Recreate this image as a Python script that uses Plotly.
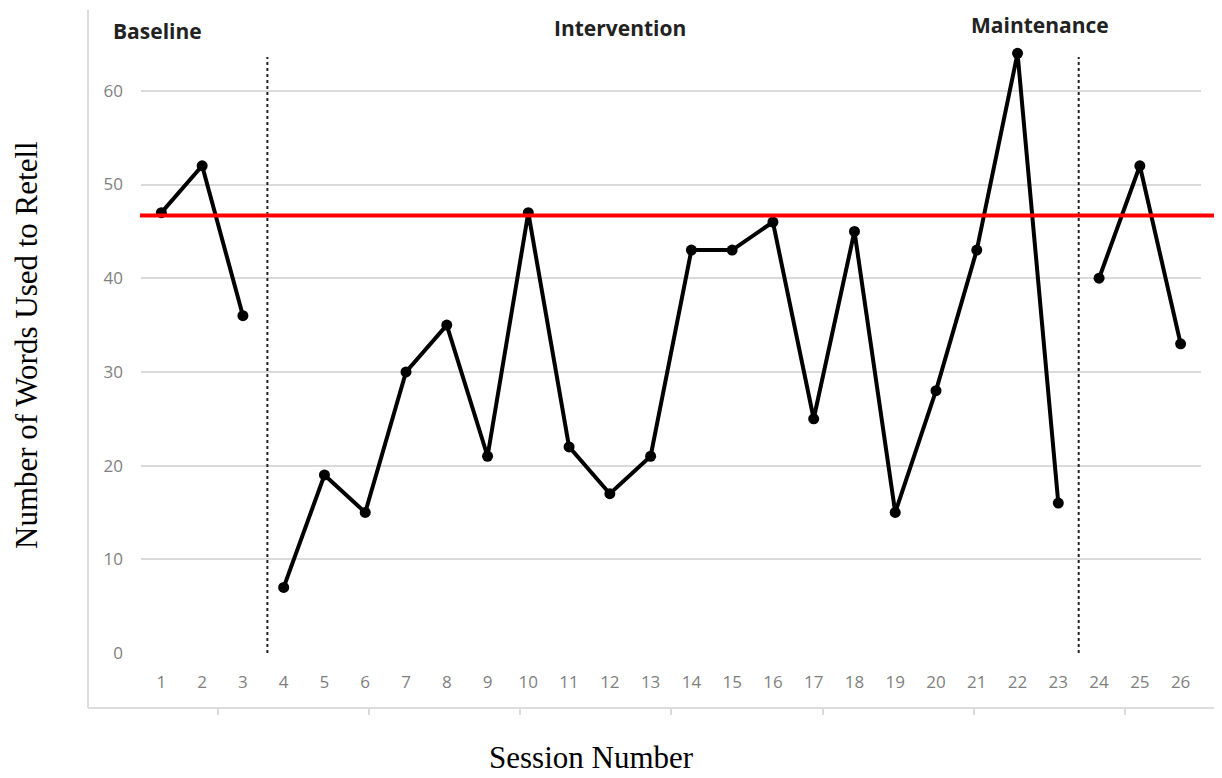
import plotly.graph_objects as go

sessions = list(range(1, 27))
words = [47, 52, 36, 7, 19, 15, 30, 35, 21, 47, 22, 17, 21, 43, 43, 46, 25, 45, 15, 28, 43, 64, 16, 40, 52, 33]
phase_names = ["Baseline", "Intervention", "Maintenance"]
phase_ranges = [(1, 3), (4, 23), (24, 26)]
phase_label_x = [0.9, 12.25, 22.54]
phase_label_y = [1.021, 1.026, 1.031]
phase_dividers = [3.6, 23.5]
criterion = 46.7
y_ticks = [0, 10, 20, 30, 40, 50, 60]

W, H = 1214, 770
L, R, T, B = 133, 21, 36, 125
PW, PH = W - L - R, H - T - B


def px(xp):  # page x pixel -> paper
    return (xp - 8 - L) / PW


def py(yp):  # page y pixel -> paper
    return (H - B - (yp - 8)) / PH


fig = go.Figure()
for (a, b) in phase_ranges:
    xs = [s for s in sessions if a <= s <= b]
    ys = [words[s - 1] for s in xs]
    fig.add_trace(go.Scatter(x=xs, y=ys, mode="lines+markers",
                             line=dict(color="black", width=4),
                             marker=dict(color="black", size=11),
                             showlegend=False, cliponaxis=False))

for d in phase_dividers:
    fig.add_shape(type="line", xref="x", yref="y", x0=d, x1=d, y0=0, y1=63.6,
                  line=dict(color="#222", width=2, dash="dot"))

fig.add_shape(type="line", xref="paper", yref="y", x0=-0.001, x1=1.05,
              y0=criterion, y1=criterion, line=dict(color="#ff0000", width=4))

for name, xv, yv in zip(phase_names, phase_label_x, phase_label_y):
    fig.add_annotation(x=xv, y=yv, xref="x", yref="paper", text="<b>" + name + "</b>",
                       xanchor="center", yanchor="middle",
                       showarrow=False, font=dict(family="Open Sans", size=21, color="#222"))

# axis titles
fig.add_annotation(x=px(591), y=py(757), xref="paper", yref="paper", text="Session Number",
                   xanchor="center", yanchor="middle", borderpad=0,
                   showarrow=False, font=dict(family="Liberation Serif", size=31, color="black"))
fig.add_annotation(x=px(27), y=py(345), xref="paper", yref="paper", text="Number of Words Used to Retell",
                   xanchor="center", yanchor="middle", textangle=-90, showarrow=False, borderpad=0,
                   font=dict(family="Liberation Serif", size=31, color="black"))

# outer frame from original image
fc = "#dcdcdc"
fig.add_shape(type="line", xref="paper", yref="paper", x0=px(88), x1=px(88),
              y0=py(708), y1=py(10), line=dict(color=fc, width=2))
fig.add_shape(type="line", xref="paper", yref="paper", x0=px(88), x1=px(1230),
              y0=py(708), y1=py(708), line=dict(color=fc, width=2))
for tx in [218, 369, 520, 671, 823, 974, 1125]:
    fig.add_shape(type="line", xref="paper", yref="paper", x0=px(tx), x1=px(tx),
                  y0=py(708), y1=py(715), line=dict(color=fc, width=2))

fig.update_layout(
    width=W, height=H,
    margin=dict(l=L, r=R, t=T, b=B),
    plot_bgcolor="white", paper_bgcolor="white",
    xaxis=dict(range=[0.5, 26.5], tickmode="array", tickvals=sessions,
               ticktext=[str(s) for s in sessions], showgrid=False, zeroline=False,
               showline=False, ticks="", ticklabelstandoff=17,
               tickfont=dict(family="Open Sans", size=17, color="#7f7f7f")),
    yaxis=dict(range=[0, 65], tickmode="array", tickvals=y_ticks, showgrid=True,
               gridcolor="#dadada", gridwidth=2, zeroline=False, showline=False,
               ticks="", ticklabelstandoff=17,
               tickfont=dict(family="Open Sans", size=17, color="#7f7f7f")),
)

fig.write_html("out.html")
